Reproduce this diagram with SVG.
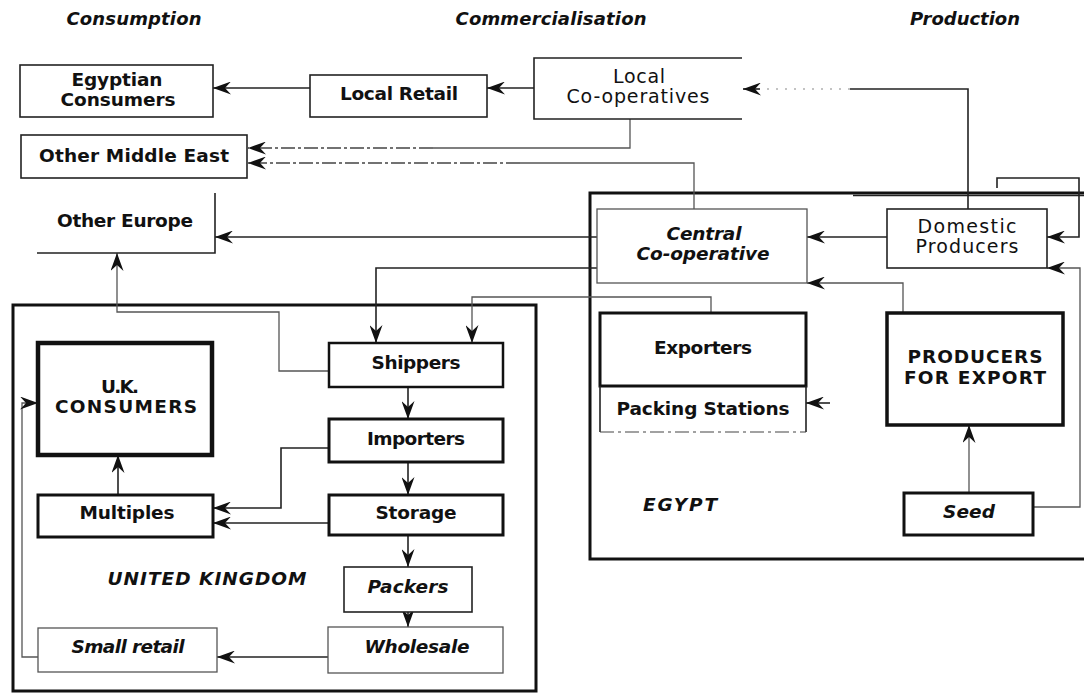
<svg xmlns="http://www.w3.org/2000/svg" width="1084" height="693" viewBox="0 0 1084 693">
  <style>
    text { font-family: "DejaVu Sans", "Liberation Sans", sans-serif; fill: #111; text-anchor: middle; }
    .hd { font-size: 18px; font-weight: bold; font-style: italic; }
    .b { font-size: 18.5px; font-weight: bold; }
    .bi { font-size: 18.5px; font-weight: bold; font-style: italic; }
    .r { font-size: 19px; }
    .box { fill: #fff; stroke: #222; stroke-width: 1.6; }
    .thin { fill: #fff; stroke: #555; stroke-width: 1.3; }
    .heavy { fill: #fff; stroke: #111; stroke-width: 3; }
    .frame { fill: none; stroke: #111; stroke-width: 3; }
    .edge { fill: none; stroke: #222; stroke-width: 1.6; }
    .edge-lt { fill: none; stroke: #555; stroke-width: 1.3; }
    .dashdot { fill: none; stroke: #444; stroke-width: 1.4; stroke-dasharray: 14 3 3 3; }
    .faint { fill: none; stroke: #888; stroke-width: 1.2; stroke-dasharray: 2 7; }
    .arr { marker-end: url(#barb); }
  </style>
  <defs>
    <marker id="barb" viewBox="0 0 18 13" refX="18" refY="6.5" markerWidth="18" markerHeight="13" markerUnits="userSpaceOnUse" orient="auto">
      <path d="M0,0 L18,6.5 L0,13 L6,6.5 Z" fill="#111" stroke="none"/>
    </marker>
  </defs>

  <!-- column headings -->
  <g id="headings">
    <text class="hd" x="134" y="25" textLength="135">Consumption</text>
    <text class="hd" x="551" y="25" textLength="191">Commercialisation</text>
    <text class="hd" x="965" y="25" textLength="110">Production</text>
  </g>

  <!-- country frames -->
  <g id="egypt">
    <rect class="frame" x="590" y="193" width="520" height="366"/>
    <path class="edge" d="M853,195.5 H1084"/>
    <text class="bi" x="680" y="511" textLength="74">EGYPT</text>
  </g>
  <g id="united-kingdom">
    <rect class="frame" x="13" y="305" width="523" height="386"/>
    <text class="bi" x="207" y="585" textLength="199">UNITED KINGDOM</text>
  </g>

  <!-- connectors -->
  <g id="connectors">
    <path class="edge arr" d="M310,88 H213"/>
    <path class="edge arr" d="M534,88 H487"/>
    <path class="edge" d="M968,209 V89 H850"/>
    <path class="faint" d="M850,89 H764"/>
    <path class="edge arr" d="M760,89 H743"/>
    <path class="edge-lt" d="M630,119 V148 H433"/>
    <path class="dashdot arr" d="M433,148 H248"/>
    <path class="edge-lt" d="M694,209 V163 H520"/>
    <path class="dashdot arr" d="M520,163 H248"/>
    <path class="edge arr" d="M597,237 H215"/>
    <path class="edge arr" d="M597,268 H376 V343"/>
    <path class="edge-lt arr" d="M711,313 V297 H472 V343"/>
    <path class="edge arr" d="M887,237 H807"/>
    <path class="edge-lt arr" d="M903,313 V283 H807"/>
    <path class="edge arr" d="M997,188 V178 H1079 V237 H1047"/>
    <path class="edge-lt arr" d="M1033,507 H1080 V268 H1047"/>
    <path class="edge-lt arr" d="M969,493 V425"/>
    <path class="edge arr" d="M830,403 H806"/>
    <path class="edge-lt arr" d="M329,371 H279 V312 H117 V253"/>
    <path class="edge arr" d="M408,387 V419"/>
    <path class="edge arr" d="M408,462 V495"/>
    <path class="edge arr" d="M408,535 V567"/>
    <path class="edge arr" d="M408,612 V627"/>
    <path class="edge arr" d="M329,448 H281 V508 H213"/>
    <path class="edge arr" d="M329,523 H213"/>
    <path class="edge arr" d="M118,495 V455"/>
    <path class="edge arr" d="M328,657 H217"/>
    <path class="edge-lt arr" d="M38,657 H22 V403 H38"/>
  </g>

  <!-- consumption -->
  <g id="egyptian-consumers">
    <rect class="box" x="20" y="65" width="193" height="52"/>
    <text class="b" x="117" y="86" textLength="91">Egyptian</text>
    <text class="b" x="118" y="106" textLength="115">Consumers</text>
  </g>
  <g id="other-middle-east">
    <rect class="box" x="21" y="135" width="226" height="43"/>
    <text class="b" x="134" y="162" textLength="190">Other Middle East</text>
  </g>
  <g id="other-europe">
    <path class="edge" d="M215,193 V253 H37"/>
    <text class="b" x="125" y="227" textLength="136">Other Europe</text>
  </g>

  <!-- commercialisation -->
  <g id="local-retail">
    <rect class="box" x="310" y="75" width="177" height="42"/>
    <text class="b" x="399" y="100" textLength="118">Local Retail</text>
  </g>
  <g id="local-cooperatives">
    <rect x="534" y="58" width="208" height="61" fill="#fff"/>
    <path class="edge" d="M742,58 H534 V119 H742"/>
    <text class="r" x="639" y="83" textLength="52">Local</text>
    <text class="r" x="638" y="103" textLength="143">Co-operatives</text>
  </g>
  <g id="central-cooperative">
    <rect class="thin" x="597" y="209" width="210" height="74"/>
    <text class="bi" x="704" y="240" textLength="75">Central</text>
    <text class="bi" x="703" y="260" textLength="133">Co-operative</text>
  </g>
  <g id="exporters">
    <rect class="heavy" x="600" y="313" width="206" height="73"/>
    <text class="b" x="703" y="354" textLength="98">Exporters</text>
  </g>
  <g id="packing-stations">
    <path class="edge" d="M600,386 V432 M806,386 V432"/>
    <path class="faint" style="stroke:#444;stroke-dasharray:14 4 3 4" d="M600,432 H806"/>
    <text class="b" x="703" y="415" textLength="173">Packing Stations</text>
  </g>

  <!-- production -->
  <g id="domestic-producers">
    <rect class="box" x="887" y="209" width="160" height="59"/>
    <text class="r" x="967" y="233" textLength="99">Domestic</text>
    <text class="r" x="967" y="253" textLength="103">Producers</text>
  </g>
  <g id="producers-for-export">
    <rect class="heavy" x="887" y="313" width="176" height="112" style="stroke-width:3.5"/>
    <text class="b" x="975" y="363" textLength="135">PRODUCERS</text>
    <text class="b" x="975" y="384" textLength="142">FOR EXPORT</text>
  </g>
  <g id="seed">
    <rect class="heavy" x="904" y="493" width="129" height="42"/>
    <text class="bi" x="969" y="518" textLength="52">Seed</text>
  </g>

  <!-- United Kingdom chain -->
  <g id="shippers">
    <rect class="heavy" x="329" y="343" width="174" height="44" style="stroke-width:2.5"/>
    <text class="b" x="416" y="369" textLength="89">Shippers</text>
  </g>
  <g id="importers">
    <rect class="heavy" x="329" y="419" width="174" height="43"/>
    <text class="b" x="416" y="445" textLength="98">Importers</text>
  </g>
  <g id="storage">
    <rect class="heavy" x="329" y="495" width="174" height="40"/>
    <text class="b" x="416" y="519" textLength="81">Storage</text>
  </g>
  <g id="packers">
    <rect class="box" x="344" y="567" width="128" height="45"/>
    <text class="bi" x="408" y="593" textLength="81">Packers</text>
  </g>
  <g id="wholesale">
    <rect class="thin" x="328" y="627" width="175" height="46"/>
    <text class="bi" x="417" y="653" textLength="105">Wholesale</text>
  </g>
  <g id="uk-consumers">
    <rect class="heavy" x="38" y="343" width="174" height="112" style="stroke-width:4.5"/>
    <text class="b" x="120" y="393" textLength="38">U.K.</text>
    <text class="b" x="126" y="413" textLength="142">CONSUMERS</text>
  </g>
  <g id="multiples">
    <rect class="heavy" x="38" y="495" width="175" height="42"/>
    <text class="b" x="127" y="519" textLength="95">Multiples</text>
  </g>
  <g id="small-retail">
    <rect class="thin" x="38" y="628" width="179" height="44"/>
    <text class="bi" x="128" y="653" textLength="113">Small retail</text>
  </g>
</svg>
